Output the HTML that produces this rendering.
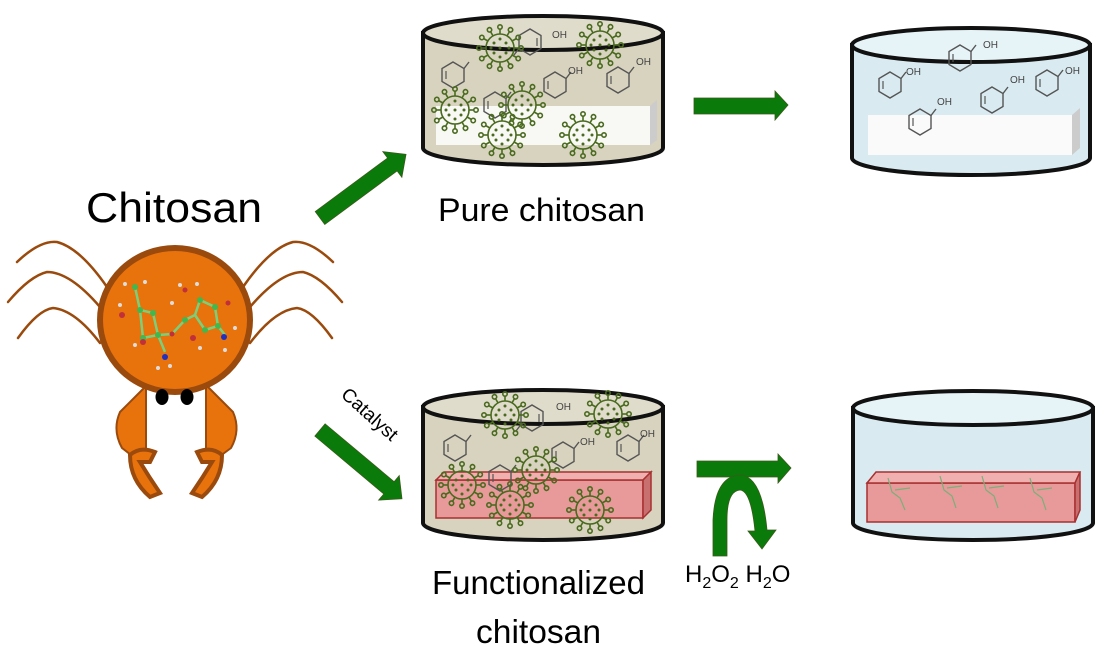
<!DOCTYPE html>
<html><head><meta charset="utf-8"><style>
html,body{margin:0;padding:0;background:#fff;width:1111px;height:661px;overflow:hidden}
svg{display:block}
text{font-family:"Liberation Sans",sans-serif}
</style></head><body>
<svg width="1111" height="661" viewBox="0 0 1111 661">
<defs>
<g id="vir">
  <g stroke="#4a6b1f" stroke-width="1.6" fill="none">
    <circle r="14"/>
    <g id="sp"><line x1="0" y1="-14" x2="0" y2="-19"/><circle cx="0" cy="-21" r="2.2"/></g>
    <use href="#sp" transform="rotate(30)"/><use href="#sp" transform="rotate(60)"/><use href="#sp" transform="rotate(90)"/>
    <use href="#sp" transform="rotate(120)"/><use href="#sp" transform="rotate(150)"/><use href="#sp" transform="rotate(180)"/>
    <use href="#sp" transform="rotate(210)"/><use href="#sp" transform="rotate(240)"/><use href="#sp" transform="rotate(270)"/>
    <use href="#sp" transform="rotate(300)"/><use href="#sp" transform="rotate(330)"/>
  </g>
  <g fill="#4a6b1f"><circle cx="0" cy="0" r="1.5"/><circle cx="-6" cy="-5" r="1.5"/><circle cx="6" cy="-5" r="1.5"/><circle cx="-6" cy="5" r="1.5"/><circle cx="6" cy="5" r="1.5"/><circle cx="0" cy="-9" r="1.5"/><circle cx="0" cy="9" r="1.5"/><circle cx="-9" cy="0" r="1.5"/><circle cx="9" cy="0" r="1.5"/></g>
</g>
<g id="phe">
  <polygon points="0,-13 11,-6.5 11,6.5 0,13 -11,6.5 -11,-6.5" fill="none" stroke="#555" stroke-width="1.4"/>
  <polyline points="-7,-4 -7,4" stroke="#555" stroke-width="1.2"/>
  <line x1="11" y1="-6.5" x2="16" y2="-13" stroke="#555" stroke-width="1.4"/>
</g>
</defs>

<!-- Chitosan label -->
<text x="86" y="222" font-size="42" textLength="176" lengthAdjust="spacingAndGlyphs" fill="#000">Chitosan</text>

<!-- Crab legs -->
<g stroke="#9a4a0c" stroke-width="2.5" fill="none" stroke-linecap="round">
  <path d="M17,262 Q40,240 57,242 Q80,248 107,287"/>
  <path d="M8,302 Q30,276 47,272 Q70,272 100,307"/>
  <path d="M18,338 Q38,310 53,308 Q75,310 100,343"/>
  <path d="M333,262 Q310,240 293,242 Q270,248 243,287"/>
  <path d="M342,302 Q320,276 303,272 Q280,272 250,307"/>
  <path d="M332,338 Q312,310 297,308 Q275,310 250,343"/>
</g>
<!-- claws -->
<g fill="#e8720c" stroke="#9a4a0c" stroke-width="2">
  <path d="M145,387 L120,412 Q112,430 122,448 L140,462 L146,460 L146,387 Z"/>
  <path d="M208,387 L233,412 Q241,430 231,448 L212,462 L206,460 L206,387 Z"/>
  <path d="M130,455 Q140,446 155,452 L150,462 L140,462 L150,478 L160,493 L150,497 Q130,480 130,455 Z" stroke-width="4"/>
  <path d="M222,455 Q212,446 197,452 L202,462 L212,462 L202,478 L192,493 L202,497 Q222,480 222,455 Z" stroke-width="4"/>
</g>
<!-- body -->
<ellipse cx="175" cy="320" rx="75" ry="72" fill="#e8720c" stroke="#9a4a0c" stroke-width="6"/>
<ellipse cx="162" cy="397" rx="6.5" ry="8" fill="#000"/>
<ellipse cx="187" cy="397" rx="6.5" ry="8" fill="#000"/>
<!-- molecule -->
<g stroke="#7ad07a" stroke-width="2.5" fill="none">
  <path d="M135,287 L140,310 L153,313 L158,335 L143,338 L140,310"/>
  <path d="M158,335 L165,352 M158,335 L172,334 L185,320 L195,315 L200,300 M195,315 L205,330 L218,326 L215,307 L200,300 M218,326 L225,335"/>
</g>
<g fill="#3fb84f"><circle cx="135" cy="287" r="3"/><circle cx="140" cy="310" r="3"/><circle cx="153" cy="313" r="3"/><circle cx="158" cy="335" r="3"/><circle cx="143" cy="338" r="3"/><circle cx="185" cy="320" r="3"/><circle cx="200" cy="300" r="3"/><circle cx="205" cy="330" r="3"/><circle cx="218" cy="326" r="3"/><circle cx="215" cy="307" r="3"/></g>
<g fill="#c0303a"><circle cx="122" cy="315" r="3"/><circle cx="143" cy="342" r="3"/><circle cx="172" cy="334" r="2.5"/><circle cx="193" cy="338" r="3"/><circle cx="228" cy="303" r="2.5"/><circle cx="185" cy="290" r="2.5"/></g>
<g fill="#2030c0"><circle cx="165" cy="357" r="3"/><circle cx="224" cy="337" r="3"/></g>
<g fill="#ddd"><circle cx="125" cy="284" r="2"/><circle cx="145" cy="282" r="2"/><circle cx="120" cy="305" r="2"/><circle cx="135" cy="345" r="2"/><circle cx="158" cy="368" r="2"/><circle cx="170" cy="366" r="2"/><circle cx="180" cy="285" r="2"/><circle cx="197" cy="284" r="2"/><circle cx="172" cy="303" r="2"/><circle cx="235" cy="328" r="2"/><circle cx="225" cy="350" r="2"/><circle cx="200" cy="348" r="2"/></g>

<!-- arrows -->
<g fill="#0a7a0a" stroke="#3a5a1a" stroke-width="0.8">
  <polygon points="694,98 775,98 775,91 788,105 775,120 775,114 694,114"/>
  <polygon points="697,461 778,461 778,454 791,468 778,483 778,477 697,477"/>
  <g transform="translate(320,218) rotate(-36.5)"><polygon points="0,-8 90,-8 90,-16 107,0 90,16 90,8 0,8"/></g>
  <g transform="translate(320,430) rotate(40)"><polygon points="0,-8 90,-8 90,-16 107,0 90,16 90,8 0,8"/></g>
  <path d="M713,556 L713,520 Q715,476 740,475 Q762,476 767,530 L776,530 L762,549 L748,531 L755,531 Q751,491 740,490 Q727,491 727,520 L727,556 Z"/>
</g>
<text x="0" y="0" font-size="19" transform="translate(340,396) rotate(42)" fill="#000">Catalyst</text>
<text x="685" y="582" font-size="24" fill="#000">H<tspan font-size="16" dy="6">2</tspan><tspan dy="-6">O</tspan><tspan font-size="16" dy="6">2</tspan><tspan dy="-6"> H</tspan><tspan font-size="16" dy="6">2</tspan><tspan dy="-6">O</tspan></text>

<!-- Dish 1 top-left -->
<g>
  <path d="M423,33 L423,148 A120,17 0 0 0 663,148 L663,33 Z" fill="#d8d3bf" stroke="#111" stroke-width="4"/>
  <polygon points="436,106 650,106 650,145 436,145" fill="#f8f8f4"/>
  <polygon points="650,106 657,100 657,140 650,145" fill="#ccc"/>
  <ellipse cx="543" cy="33" rx="120" ry="17" fill="#e0dccb" stroke="#111" stroke-width="4"/>
  <use href="#phe" transform="translate(453,75)"/><use href="#phe" transform="translate(530,42) rotate(180)"/>
  <use href="#phe" transform="translate(555,85)"/><use href="#phe" transform="translate(618,80)"/><use href="#phe" transform="translate(495,105)"/>
  <g font-size="10" fill="#444"><text x="552" y="38">OH</text><text x="568" y="74">OH</text><text x="636" y="65">OH</text></g>
  <use href="#vir" transform="translate(500,48)"/><use href="#vir" transform="translate(600,45)"/>
  <use href="#vir" transform="translate(455,110)"/><use href="#vir" transform="translate(522,105)"/>
  <use href="#vir" transform="translate(502,135)"/><use href="#vir" transform="translate(583,135)"/>
</g>
<text x="438" y="221" font-size="32" textLength="207" lengthAdjust="spacingAndGlyphs" fill="#000">Pure chitosan</text>

<!-- Dish 2 top-right -->
<g>
  <path d="M852,45 L852,158 A119,17 0 0 0 1090,158 L1090,45 Z" fill="#d9ebf1" stroke="#111" stroke-width="4"/>
  <polygon points="868,115 1072,115 1072,155 868,155" fill="#fafafa"/>
  <polygon points="1072,115 1080,108 1080,148 1072,155" fill="#ccc"/>
  <ellipse cx="971" cy="45" rx="119" ry="17" fill="#e6f3f7" stroke="#111" stroke-width="4"/>
  <use href="#phe" transform="translate(890,85)"/><use href="#phe" transform="translate(960,58)"/>
  <use href="#phe" transform="translate(992,100)"/><use href="#phe" transform="translate(1047,83)"/><use href="#phe" transform="translate(920,122)"/>
  <g font-size="10" fill="#444"><text x="906" y="75">OH</text><text x="983" y="48">OH</text><text x="1010" y="83">OH</text><text x="1065" y="74">OH</text><text x="937" y="105">OH</text></g>
</g>

<!-- Dish 3 bottom-left -->
<g>
  <path d="M423,407 L423,523 A120,17 0 0 0 663,523 L663,407 Z" fill="#d8d3bf" stroke="#111" stroke-width="4"/>
  <polygon points="436,480 643,480 643,518 436,518" fill="#e89a9a" stroke="#a83030" stroke-width="1.5"/>
  <polygon points="436,480 444,472 651,472 643,480" fill="#f0b0b0" stroke="#a83030" stroke-width="1.5"/>
  <polygon points="643,480 651,472 651,510 643,518" fill="#c87070" stroke="#a83030" stroke-width="1.5"/>
  <ellipse cx="543" cy="407" rx="120" ry="17" fill="#e0dccb" stroke="#111" stroke-width="4"/>
  <use href="#phe" transform="translate(455,448)"/><use href="#phe" transform="translate(532,418) rotate(180)"/>
  <use href="#phe" transform="translate(563,455)"/><use href="#phe" transform="translate(628,448)"/><use href="#phe" transform="translate(500,478)"/>
  <g font-size="10" fill="#444"><text x="556" y="410">OH</text><text x="580" y="445">OH</text><text x="640" y="437">OH</text></g>
  <use href="#vir" transform="translate(505,415)"/><use href="#vir" transform="translate(608,414)"/>
  <use href="#vir" transform="translate(462,485)"/><use href="#vir" transform="translate(536,470)"/>
  <use href="#vir" transform="translate(510,505)"/><use href="#vir" transform="translate(590,510)"/>
</g>
<text x="432" y="594" font-size="33" textLength="213" lengthAdjust="spacingAndGlyphs" fill="#000">Functionalized</text>
<text x="476" y="643" font-size="33" textLength="125" lengthAdjust="spacingAndGlyphs" fill="#000">chitosan</text>

<!-- Dish 4 bottom-right -->
<g>
  <path d="M853,408 L853,523 A120,17 0 0 0 1093,523 L1093,408 Z" fill="#d9ebf1" stroke="#111" stroke-width="4"/>
  <polygon points="867,483 1075,483 1075,522 867,522" fill="#e89a9a" stroke="#a83030" stroke-width="1.5"/>
  <polygon points="867,483 876,472 1080,472 1075,483" fill="#f0b0b0" stroke="#a83030" stroke-width="1.5"/>
  <polygon points="1075,483 1080,472 1080,510 1075,522" fill="#c87070" stroke="#a83030" stroke-width="1.5"/>
  <g stroke="#7ab07a" stroke-width="1.2" fill="none">
    <path d="M888,478 L892,492 L900,498 L905,510 M895,490 L910,488"/>
    <path d="M940,476 L944,490 L952,496 L956,508 M947,488 L962,486"/>
    <path d="M982,476 L986,490 L994,496 L998,508 M989,488 L1004,486"/>
    <path d="M1030,478 L1034,492 L1042,498 L1046,510 M1037,490 L1052,488"/>
  </g>
  <ellipse cx="973" cy="408" rx="120" ry="17" fill="#e6f3f7" stroke="#111" stroke-width="4"/>
</g>
</svg>
</body></html>
